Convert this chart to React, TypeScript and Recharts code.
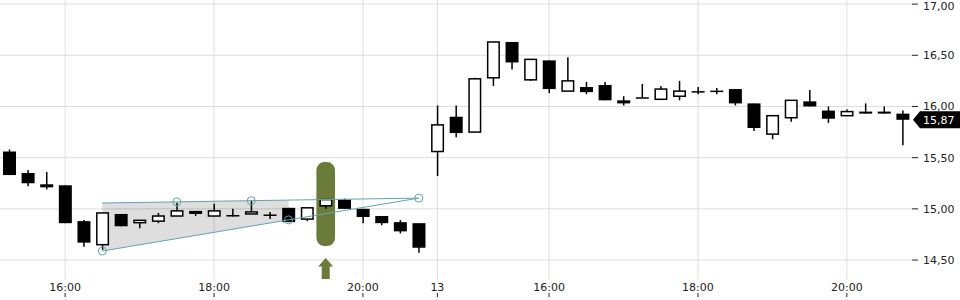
import React from 'react';
import {
  ComposedChart,
  Bar,
  Line,
  Area,
  XAxis,
  YAxis,
  CartesianGrid,
  ReferenceArea,
  ReferenceDot,
  ReferenceLine,
} from 'recharts';

// 15-minute candles, two trading sessions (day 12 and day 13)
const DAY1_TIMES = [
  '15:15', '15:30', '15:45', '16:00', '16:15', '16:30', '16:45', '17:00',
  '17:15', '17:30', '17:45', '18:00', '18:15', '18:30', '18:45', '19:00',
  '19:15', '19:30', '19:45', '20:00', '20:15', '20:30', '20:45',
];
const DAY2_TIMES = [
  '14:30', '14:45', '15:00', '15:15', '15:30', '15:45', '16:00', '16:15',
  '16:30', '16:45', '17:00', '17:15', '17:30', '17:45', '18:00', '18:15',
  '18:30', '18:45', '19:00', '19:15', '19:30', '19:45', '20:00', '20:15',
  '20:30', '20:45',
];
const TIMES = [...DAY1_TIMES.map((t) => '12 ' + t), ...DAY2_TIMES.map((t) => '13 ' + t)];

const OPEN = [
  15.56, 15.35, 15.24, 15.23, 14.88, 14.65, 14.95, 14.865, 14.88, 14.93, 14.98, 14.93,
  14.94, 14.95, 14.945, 15.01, 14.9, 15.03, 15.09, 15.0, 14.93, 14.87, 14.86,
  15.56, 15.9, 15.75, 16.28, 16.63, 16.26, 16.45, 16.15, 16.19, 16.21, 16.06, 16.09,
  16.07, 16.1, 16.15, 16.155, 16.17, 16.03, 15.73, 15.89, 16.05, 15.96, 15.91, 15.95,
  15.95, 15.93,
];
const HIGH = [
  15.58, 15.38, 15.36, 15.23, 14.89, 14.96, 14.95, 14.89, 14.96, 15.06, 14.98, 15.05,
  15.0, 15.08, 14.97, 15.01, 15.01, 15.09, 15.1, 15.0, 14.93, 14.89, 14.86,
  16.01, 16.01, 16.28, 16.63, 16.63, 16.46, 16.45, 16.48, 16.24, 16.24, 16.1, 16.22,
  16.2, 16.25, 16.19, 16.18, 16.17, 16.03, 15.91, 16.06, 16.16, 16.0, 15.97, 16.03,
  16.0, 15.96,
];
const LOW = [
  15.33, 15.22, 15.19, 14.86, 14.63, 14.6, 14.83, 14.81, 14.86, 14.93, 14.93, 14.93,
  14.925, 14.95, 14.9, 14.87, 14.88, 15.0, 15.0, 14.86, 14.84, 14.76, 14.57,
  15.32, 15.7, 15.75, 16.2, 16.36, 16.25, 16.13, 16.15, 16.12, 16.06, 16.01, 16.085,
  16.07, 16.06, 16.12, 16.12, 16.01, 15.76, 15.68, 15.85, 16.0, 15.84, 15.91, 15.93,
  15.93, 15.62,
];
const CLOSE = [
  15.33, 15.25, 15.21, 14.86, 14.67, 14.96, 14.83, 14.888, 14.93, 14.98, 14.95, 14.98,
  14.925, 14.97, 14.94, 14.87, 15.01, 15.09, 15.0, 14.92, 14.86, 14.78, 14.62,
  15.82, 15.74, 16.27, 16.63, 16.43, 16.46, 16.17, 16.25, 16.14, 16.06, 16.03, 16.085,
  16.17, 16.15, 16.14, 16.15, 16.03, 15.79, 15.91, 16.06, 16.0, 15.88, 15.95, 15.93,
  15.93, 15.87,
];

// drawn trend lines (wedge) and their anchor points
const UPPER_LINE: Record<string, number> = {
  '12 16:30': 15.057,
  '12 17:30': 15.068,
  '12 18:30': 15.08,
  '12 20:45': 15.105,
};
const LOWER_LINE: Record<string, number> = {
  '12 16:30': 14.588,
  '12 19:00': 14.892,
  '12 20:45': 15.105,
};
const WEDGE_FILL: Record<string, [number, number]> = {
  '12 16:30': [14.588, 15.057],
  '12 19:00': [14.892, 15.085],
};
const UPPER_ANCHORS = ['12 17:30', '12 18:30', '12 20:45'];
const LOWER_ANCHORS = ['12 16:30', '12 19:00'];

const HIGHLIGHT_TIME = '12 19:30';
const HIGHLIGHT_RANGE = [14.637, 15.457];
const LAST_PRICE = 15.87;

const X_TICKS = ['12 16:00', '12 18:00', '12 20:00', '13 14:30', '13 16:00', '13 18:00', '13 20:00'];
const X_TICK_LABELS = ['16:00', '18:00', '20:00', '13', '16:00', '18:00', '20:00'];
const Y_TICKS = [14.5, 15, 15.5, 16, 16.5, 17];

const TEAL = '#62a3ab';
const GREEN = '#6b7b39';
const FONT = 'DejaVu Sans, sans-serif';

const data = TIMES.map((time, i) => ({
  time,
  open: OPEN[i],
  high: HIGH[i],
  low: LOW[i],
  close: CLOSE[i],
  upper: UPPER_LINE[time] ?? null,
  lower: LOWER_LINE[time] ?? null,
  wedge: WEDGE_FILL[time] ?? null,
}));

const fmt = (v: number) => v.toFixed(2).replace('.', ',');

const Candle = (props: any) => {
  const { x, y, width, height, payload } = props;
  const top0 = height < 0 ? y + height : y;
  const h0 = Math.abs(height);
  const { open, close, high, low } = payload;
  const k = h0 / (high - low);
  const py = (v: number) => top0 + (high - v) * k;
  const cx = x + width / 2;
  const up = close >= open;
  const top = py(Math.max(open, close));
  const bot = py(Math.min(open, close));
  const bh = Math.max(bot - top, 1.5);
  return (
    <g>
      <line x1={cx} x2={cx} y1={top0} y2={top0 + h0} stroke="#000" strokeWidth={1.5} />
      {up ? (
        <rect x={x + 0.75} y={top} width={width - 1.5} height={bh} fill="#fff" stroke="#000" strokeWidth={1.5} />
      ) : (
        <rect x={x} y={top} width={width} height={bh} fill="#000" />
      )}
    </g>
  );
};

const makeDot = (anchors: string[]) => (props: any) => {
  const { cx, cy, payload, key } = props;
  if (!anchors.includes(payload.time) || cx == null || cy == null) return <g key={key} />;
  return <circle key={key} cx={cx} cy={cy} r={4} fill="none" stroke={TEAL} strokeWidth={1} />;
};

const XTick = (props: any) => {
  const { x, payload } = props;
  const idx = X_TICKS.indexOf(payload.value);
  return (
    <g>
      <text x={x} y={291} textAnchor="middle" fontSize={11} fontFamily={FONT} fill="#222">
        {X_TICK_LABELS[idx]}
      </text>
      <line x1={x} x2={x} y1={293} y2={297} stroke="#222" />
    </g>
  );
};

const PriceTag = (props: any) => {
  const { viewBox } = props;
  const x0 = viewBox.x + viewBox.width + 1;
  const y0 = viewBox.y;
  return (
    <g>
      <path d={`M${x0},${y0} L${x0 + 7},${y0 - 8.5} L960,${y0 - 8.5} L960,${y0 + 8.5} L${x0 + 7},${y0 + 8.5} Z`} fill="#000" />
      <text x={x0 + 10} y={y0 + 4} fontSize={11} fontFamily={FONT} fill="#fff">
        {fmt(LAST_PRICE)}
      </text>
    </g>
  );
};

export default function App() {
  return (
    <div style={{ position: 'absolute', left: 0, top: 0, background: '#fff' }}>
      <ComposedChart width={960} height={300} data={data} margin={{ top: 0, right: 0, bottom: 0, left: 0 }}>
        <CartesianGrid stroke="#dddddd" syncWithTicks />
        <XAxis
          dataKey="time"
          ticks={X_TICKS}
          interval={0}
          tick={<XTick />}
          tickLine={false}
          axisLine={false}
          height={20}
        />
        <YAxis
          orientation="right"
          domain={[14.305, 17.04]}
          allowDataOverflow
          ticks={Y_TICKS}
          tickFormatter={fmt}
          width={48}
          axisLine={false}
          tickSize={6}
          tickMargin={5}
          tickLine={{ stroke: '#222' }}
          tick={{ fontSize: 11, fontFamily: FONT, fill: '#222', textAnchor: 'start' }}
        />
        <ReferenceArea
          x1={HIGHLIGHT_TIME}
          x2={HIGHLIGHT_TIME}
          y1={HIGHLIGHT_RANGE[0]}
          y2={HIGHLIGHT_RANGE[1]}
          shape={(p: any) => (
            <rect x={p.x} y={p.y} width={p.width} height={p.height} rx={8} ry={8} fill={GREEN} />
          )}
        />
        <ReferenceDot
          x={HIGHLIGHT_TIME}
          y={14.52}
          shape={(p: any) => (
            <path
              d={`M${p.cx},${p.cy} L${p.cx + 7.5},${p.cy + 8.5} L${p.cx + 4},${p.cy + 8.5} L${p.cx + 4},${p.cy + 21} L${p.cx - 4},${p.cy + 21} L${p.cx - 4},${p.cy + 8.5} L${p.cx - 7.5},${p.cy + 8.5} Z`}
              fill={GREEN}
            />
          )}
        />
        <Area dataKey="wedge" stroke="none" fill="#000" fillOpacity={0.13} connectNulls isAnimationActive={false} />
        <Line dataKey="upper" stroke={TEAL} strokeWidth={1} connectNulls dot={makeDot(UPPER_ANCHORS)} activeDot={false} isAnimationActive={false} />
        <Line dataKey="lower" stroke={TEAL} strokeWidth={1} connectNulls dot={makeDot(LOWER_ANCHORS)} activeDot={false} isAnimationActive={false} />
        <Bar dataKey={(d: any) => [d.low, d.high]} barSize={13} shape={<Candle />} isAnimationActive={false} />
        <ReferenceLine y={LAST_PRICE} stroke="none" label={<PriceTag />} />
      </ComposedChart>
    </div>
  );
}
